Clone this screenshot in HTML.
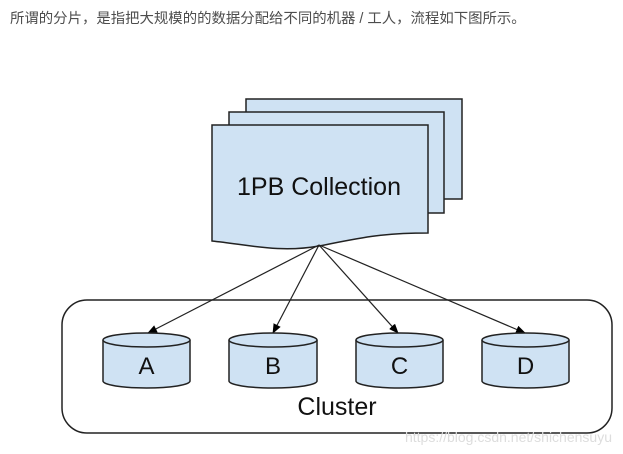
<!DOCTYPE html>
<html><head><meta charset="utf-8"><style>
html,body{margin:0;padding:0;background:#fff;width:623px;height:454px;overflow:hidden}
.t{position:absolute;left:10px;top:7px;font:14.4px "Liberation Sans","Noto Sans CJK SC",sans-serif;color:#4d4d4d;white-space:nowrap}
svg{position:absolute;left:0;top:0}
</style></head><body>
<div class="t">所谓的分片，是指把大规模的的数据分配给不同的机器 / 工人，流程如下图所示。</div>
<svg width="623" height="454" viewBox="0 0 623 454">
<defs><marker id="ah" markerWidth="10" markerHeight="8" refX="9" refY="4" orient="auto" markerUnits="userSpaceOnUse"><path d="M0,0 L10,4 L0,8 Z" fill="#000"/></marker></defs>
<g fill="#cfe2f3" stroke="#222" stroke-width="1.5">
<path d="M246,99 H462 V199 H246 Z"/>
<path d="M229,112 H444 V213 H229 Z"/>
<path d="M212,125 H428 V233 C380,233 360,238 319,246 C280,253 250,245 212,241 Z"/>
</g>
<text x="319" y="195" font-family="Liberation Sans" font-size="25" text-anchor="middle" fill="#111">1PB Collection</text>
<rect x="62" y="300" width="550" height="133" rx="25" fill="none" stroke="#222" stroke-width="1.5"/>
<g stroke="#222" stroke-width="1.2" marker-end="url(#ah)">
<line x1="319" y1="245" x2="148" y2="333"/>
<line x1="319" y1="245" x2="273" y2="333"/>
<line x1="319" y1="245" x2="398" y2="333"/>
<line x1="319" y1="245" x2="525" y2="333"/>
</g>
<g fill="#cfe2f3" stroke="#222" stroke-width="1.5">
<path d="M103,340 V381 A43.5,7 0 0 0 190,381 V340"/><ellipse cx="146.5" cy="340" rx="43.5" ry="7"/>
<path d="M229,340 V381 A44,7 0 0 0 317,381 V340"/><ellipse cx="273" cy="340" rx="44" ry="7"/>
<path d="M356,340 V381 A43.5,7 0 0 0 443,381 V340"/><ellipse cx="399.5" cy="340" rx="43.5" ry="7"/>
<path d="M482,340 V381 A43.5,7 0 0 0 569,381 V340"/><ellipse cx="525.5" cy="340" rx="43.5" ry="7"/>
</g>
<g font-family="Liberation Sans" font-size="24" text-anchor="middle" fill="#111">
<text x="146.5" y="374">A</text><text x="273" y="374">B</text><text x="399.5" y="374">C</text><text x="525.5" y="374">D</text>
<text x="337" y="415" font-size="25">Cluster</text>
</g>
<text x="612" y="442" font-family="Liberation Sans" font-size="14" text-anchor="end" fill="#ddd">https://blog.csdn.net/shichensuyu</text>
</svg>
</body></html>
